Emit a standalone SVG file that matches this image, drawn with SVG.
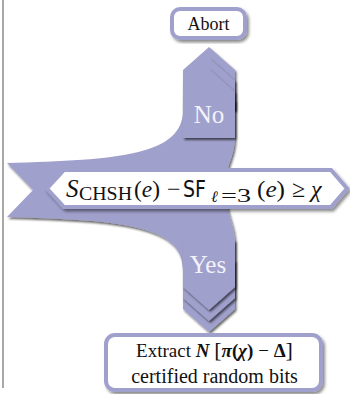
<svg xmlns="http://www.w3.org/2000/svg" width="350" height="394" viewBox="0 0 350 394">
<defs>
<filter id="sh" x="-20%" y="-20%" width="140%" height="140%">
<feDropShadow dx="1.5" dy="2" stdDeviation="1.2" flood-color="#000" flood-opacity="0.6"/>
</filter>
<filter id="sh2" x="-20%" y="-20%" width="140%" height="140%">
<feDropShadow dx="2" dy="2.5" stdDeviation="1.5" flood-color="#000" flood-opacity="0.45"/>
</filter>
</defs>
<style>
.lav{fill:#a0a0cc}
.box{fill:#fff;stroke:#a0a0cc;stroke-width:4}
.serif{font-family:"Liberation Serif","DejaVu Serif",serif;fill:#111}
.lbl{font-family:"Liberation Serif","DejaVu Serif",serif;fill:#f2f2fa;font-size:25px;text-anchor:middle}
.it{font-style:italic}
.bf{font-weight:bold}
</style>
<rect x="2" y="0" width="2" height="388" fill="#a8a8a8"/>
<g id="connectors">
<path id="ribbon" class="lav" filter="url(#sh)" d="M7,163 C120,160 183,155 183,110 L183,100 L235,100 L235,135 C235,150 231,158 228,168 L228,210 C231,222 235,230 235,245 L235,260 L183,260 L183,270 C183,225 120,220 7,217 L33,190 Z"/>
<g id="no-arrow">
<path class="lav" filter="url(#sh)" d="M183,70 L209,47 L235,70 L235,110 L183,110 Z"/>
<path class="lav" filter="url(#sh)" d="M183,81 L209,58 L235,81 L235,110 L183,110 Z"/>
<path class="lav" filter="url(#sh)" d="M183,92 L209,69 L235,92 L235,138 L183,138 Z"/>
<text class="lbl" x="209" y="123">No</text>
</g>
<g id="yes-arrow">
<path class="lav" filter="url(#sh)" d="M183,260 L235,260 L235,309 L209,332 L183,309 Z"/>
<path class="lav" filter="url(#sh)" d="M183,260 L235,260 L235,298 L209,321 L183,298 Z"/>
<path class="lav" filter="url(#sh)" d="M183,240 L235,240 L235,287 L209,310 L183,287 Z"/>
<text class="lbl" x="208" y="273">Yes</text>
</g>
</g>
<g id="abort">
<rect class="box" filter="url(#sh2)" x="172" y="9" width="73" height="29" rx="8"/>
<text class="serif" x="208.5" y="30" font-size="18" text-anchor="middle">Abort</text>
</g>
<g id="condition">
<polygon class="box" filter="url(#sh2)" points="47,188.5 64,170 331,170 347,188.5 331,207 64,207"/>
<g class="serif">
<text class="it" x="66" y="197" font-size="25">S</text>
<text x="79" y="200" font-size="18" textLength="53" lengthAdjust="spacingAndGlyphs">CHSH</text>
<text x="134" y="197" font-size="24" textLength="26" lengthAdjust="spacingAndGlyphs">(<tspan class="it">e</tspan>)</text>
<text x="167" y="197" font-size="24">−</text>
<text x="183" y="197" font-size="23" font-family="'DejaVu Sans','Liberation Sans',sans-serif" textLength="23" lengthAdjust="spacingAndGlyphs">SF</text>
<text x="211" y="202" font-size="16" font-family="'DejaVu Serif',serif" font-style="italic">ℓ</text>
<text x="221" y="202" font-size="18" textLength="30" lengthAdjust="spacingAndGlyphs">=3</text>
<text x="257" y="197" font-size="24" textLength="28" lengthAdjust="spacingAndGlyphs">(<tspan class="it">e</tspan>)</text>
<text x="292" y="197" font-size="24">≥</text>
<text class="it" x="311" y="197" font-size="24">χ</text>
</g>
</g>
<g id="extract">
<rect class="box" filter="url(#sh2)" x="106" y="335" width="215" height="55" rx="9"/>
<text class="serif" x="214.5" y="357" font-size="19" text-anchor="middle">Extract <tspan class="it bf">N</tspan> <tspan font-size="22">[</tspan><tspan class="it bf">π</tspan><tspan class="bf">(</tspan><tspan class="it bf">χ</tspan><tspan class="bf">)</tspan> − <tspan class="bf">Δ</tspan><tspan font-size="22">]</tspan></text>
<text class="serif" x="214.5" y="383" font-size="20" text-anchor="middle">certified random bits</text>
</g>
</svg>
